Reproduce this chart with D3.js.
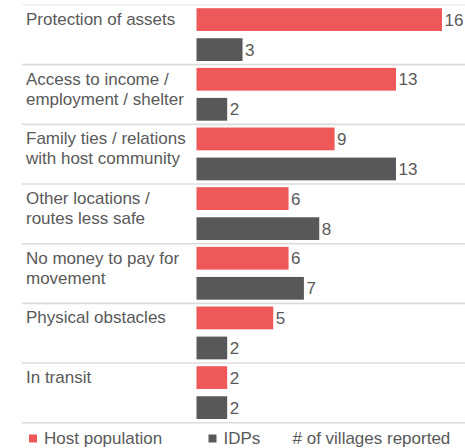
<!DOCTYPE html>
<html><head><meta charset="utf-8">
<script src="https://cdn.jsdelivr.net/npm/d3@7"></script>
<style>
html,body{margin:0;padding:0;background:#fff;}
svg{display:block;font-family:"Liberation Sans",Arial,sans-serif;}
</style></head>
<body>
<svg id="chart" width="465" height="448"></svg>
<script>
const categories = [
  ["Protection of assets"],
  ["Access to income /", "employment / shelter"],
  ["Family ties / relations", "with host community"],
  ["Other locations /", "routes less safe"],
  ["No money to pay for", "movement"],
  ["Physical obstacles"],
  ["In transit"]
];
const hostValues = [16, 13, 9, 6, 6, 5, 2];
const idpValues  = [3, 2, 13, 8, 7, 2, 2];
const seriesNames = ["Host population", "IDPs"];
const seriesColors = ["#ee5859", "#58585a"];
const axisNote = "# of villages reported";

const svg = d3.select("#chart");
const textColor = "#595959";
const idx = d3.range(categories.length);

const y = d3.scaleBand().domain(idx).range([5, 5 + 59.67 * categories.length]).paddingInner(0);
const yInner = d3.scaleBand().domain([0, 1]).range([3.2, 56]).paddingInner(0.243);
const x = d3.scaleLinear().domain([0, 16]).range([196.5, 442]);

// separators
const seps = idx.concat([categories.length]);
svg.append("g").selectAll("line").data(seps).join("line")
  .attr("x1", 22).attr("x2", 465)
  .attr("y1", d => d === categories.length ? y.range()[1] : y(d))
  .attr("y2", d => d === categories.length ? y.range()[1] : y(d))
  .attr("stroke", d => d === 0 ? "#efefef" : "#dcdcdc")
  .attr("stroke-width", 1.6);

// labels
const lab = svg.append("g").selectAll("text").data(idx).join("text")
  .attr("x", 26).attr("y", d => y(d) + 20)
  .attr("fill", textColor).style("font-size", "17px");
lab.each(function(d){
  const t = d3.select(this);
  categories[d].forEach((line, i) => {
    t.append("tspan").attr("x", 26).attr("dy", i === 0 ? 0 : 20).text(line);
  });
});

const series = [hostValues, idpValues];
series.forEach((vals, s) => {
  const g = svg.append("g");
  g.selectAll("rect").data(idx).join("rect")
    .attr("x", x(0))
    .attr("y", d => y(d) + yInner(s))
    .attr("width", d => x(vals[d]) - x(0))
    .attr("height", yInner.bandwidth())
    .attr("fill", seriesColors[s]);
  g.selectAll("text").data(idx).join("text")
    .attr("x", d => x(vals[d]) + 2.5)
    .attr("y", d => y(d) + yInner(s) + yInner.bandwidth() / 2 + 6)
    .attr("fill", textColor).style("font-size", "17px")
    .text(d => vals[d]);
});

// legend
const legX = [29, 208.5];
const legBase = 444;
const leg = svg.append("g");
seriesNames.forEach((n, i) => {
  leg.append("rect").attr("x", legX[i]).attr("y", legBase - 9.5).attr("width", 8).attr("height", 8).attr("fill", seriesColors[i]);
  leg.append("text").attr("x", legX[i] + 15).attr("y", legBase).attr("fill", textColor).style("font-size", "17px").text(n);
});
leg.append("text").attr("x", 292.5).attr("y", legBase).attr("fill", textColor).style("font-size", "17px").text(axisNote);
</script>
</body></html>
